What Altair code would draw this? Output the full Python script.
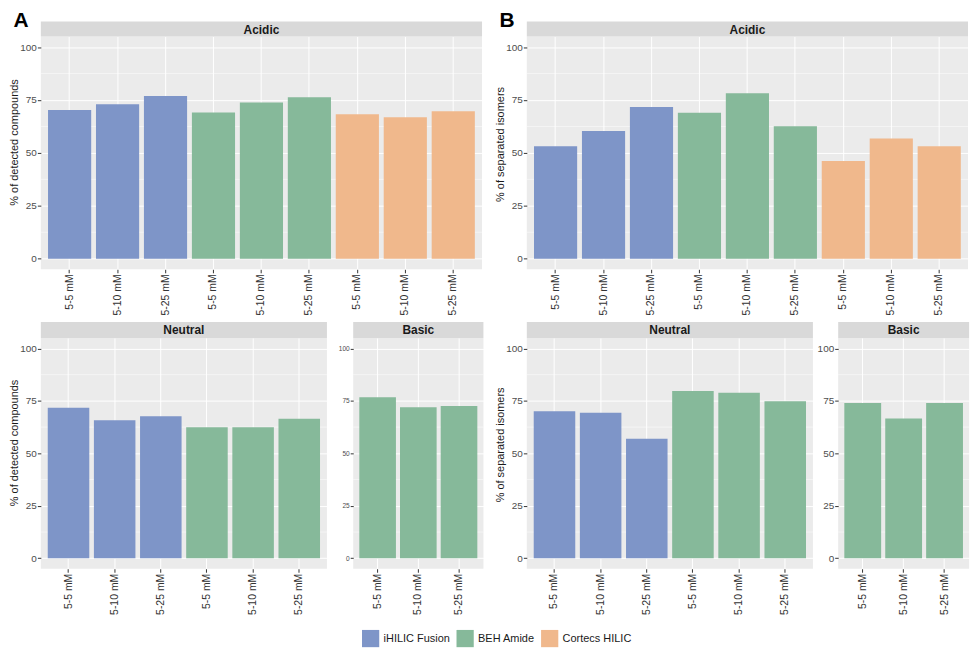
import altair as alt
import pandas as pd

# ---- data ----
columns = ["iHILIC Fusion", "BEH Amide", "Cortecs HILIC"]
colors = ["#7E95C8", "#86B99A", "#F0B88C"]
buffers = ["5-5 mM", "5-10 mM", "5-25 mM"]

A_acidic = [70.3, 73.0, 76.9, 69.1, 73.8, 76.3, 68.3, 66.9, 69.7]
A_neutral = [71.7, 65.8, 67.7, 62.4, 62.4, 66.5]
A_basic = [76.7, 72.0, 72.6]

B_acidic = [53.1, 60.4, 71.7, 69.0, 78.2, 62.6, 46.2, 56.8, 53.1]
B_neutral = [70.1, 69.3, 56.9, 79.7, 78.9, 74.8]
B_basic = [74.0, 66.6, 74.0]

minor_grid = [12.5, 37.5, 62.5, 87.5]
y_ticks = [0, 25, 50, 75, 100]

FONT = "Liberation Sans"


def panel(values, cols, strip, ytitle, W, H, letter=None, ylab=10,
          title_shift=10, strip_h=15):
    cats = [(c, b) for c in cols for b in buffers]
    keys = [f"{c}|{b}" for c, b in cats]
    df = pd.DataFrame({"key": keys, "column": [c for c, _ in cats], "value": values})

    yscale = alt.Scale(domain=[-5, 105], nice=False, zero=False)
    axis_kw = dict(values=y_ticks, labelFontSize=ylab, tickSize=3.5 if ylab >= 9 else 3,
                   labelPadding=1, grid=True, gridColor="white", gridWidth=1)
    if ytitle:
        yaxis = alt.Axis(title=ytitle, titleY=H / 2 - title_shift, titlePadding=0,
                         **axis_kw)
    else:
        yaxis = alt.Axis(title=None, **axis_kw)

    rules = alt.Chart(pd.DataFrame({"value": minor_grid})).mark_rule(
        color="white", strokeWidth=0.5
    ).encode(y=alt.Y("value:Q", scale=yscale, axis=yaxis))

    bars = alt.Chart(df).mark_bar().encode(
        x=alt.X("key:N", sort=keys,
                scale=alt.Scale(paddingInner=0.1, paddingOuter=0.15),
                axis=alt.Axis(title=None, labelExpr="split(datum.label, '|')[1]",
                              labelAngle=270, bandPosition=0.5, grid=True,
                              gridColor="white", gridWidth=1, tickSize=3.5,
                              labelPadding=1, labelFontSize=10.5,
                              labelColor="#333333")),
        y=alt.Y("value:Q", scale=yscale, axis=yaxis),
        y2=alt.datum(0),
        color=alt.Color("column:N", scale=alt.Scale(domain=columns, range=colors),
                        legend=alt.Legend(title=None)),
    )

    sdf = pd.DataFrame({"t": [strip]})
    strip_rect = alt.Chart(sdf).mark_rect(color="#D9D9D9").encode(
        x=alt.value(0), x2=alt.value(W), y=alt.value(-strip_h), y2=alt.value(0)
    )
    strip_text = alt.Chart(sdf).mark_text(
        font=FONT, fontSize=12, fontWeight="bold", color="#1A1A1A", baseline="middle"
    ).encode(x=alt.value(W / 2), y=alt.value(-strip_h / 2 + 0.5), text="t:N")

    layers = [rules, bars, strip_rect, strip_text]
    if letter:
        ldf = pd.DataFrame({"l": [letter]})
        layers.append(
            alt.Chart(ldf).mark_text(
                font=FONT, fontSize=21, fontWeight="bold", color="black",
                align="center", baseline="top"
            ).encode(x=alt.value(-20), y=alt.value(-27), text="l:N")
        )
    return alt.layer(*layers).properties(width=W, height=H)


ya = "% of detected compounds"
yb = "% of separated isomers"

WT = 443.5
WN = 287.6

a_top = panel(A_acidic, columns, "Acidic", ya, WT, 234, letter="A", title_shift=11)
a_neu = panel(A_neutral, columns[:2], "Neutral", ya, WN, 232, title_shift=11, strip_h=16)
a_bas = panel(A_basic, columns[1:2], "Basic", None, 130.9, 232, ylab=6.6, strip_h=16)

b_top = panel(B_acidic, columns, "Acidic", yb, WT, 234, letter="B", title_shift=9)
b_neu = panel(B_neutral, columns[:2], "Neutral", yb, WN, 232, title_shift=9, strip_h=16)
b_bas = panel(B_basic, columns[1:2], "Basic", None, 131.6, 232, strip_h=16)

a_group = alt.vconcat(a_top, alt.hconcat(a_neu, a_bas, spacing=10), spacing=7)
b_group = alt.vconcat(b_top, alt.hconcat(b_neu, b_bas, spacing=3), spacing=7)

chart = alt.hconcat(a_group, b_group, spacing=9.5).properties(
    padding=0
).configure_view(
    fill="#EBEBEB", strokeWidth=0
).configure_axis(
    domain=False, tickColor="#333333", labelColor="#4D4D4D", labelFont=FONT,
    titleFont=FONT, titleFontWeight="normal", titleFontSize=11,
    titleColor="#1A1A1A"
).configure_legend(
    orient="none", legendX=322.5, legendY=596, direction="horizontal",
    symbolType="square", symbolSize=300, symbolStrokeWidth=0,
    labelFont=FONT, labelFontSize=11, labelColor="#1A1A1A",
    columnPadding=6, labelOffset=4, padding=0
)

chart.save("out.html", embed_options={"renderer": "svg", "actions": False})
